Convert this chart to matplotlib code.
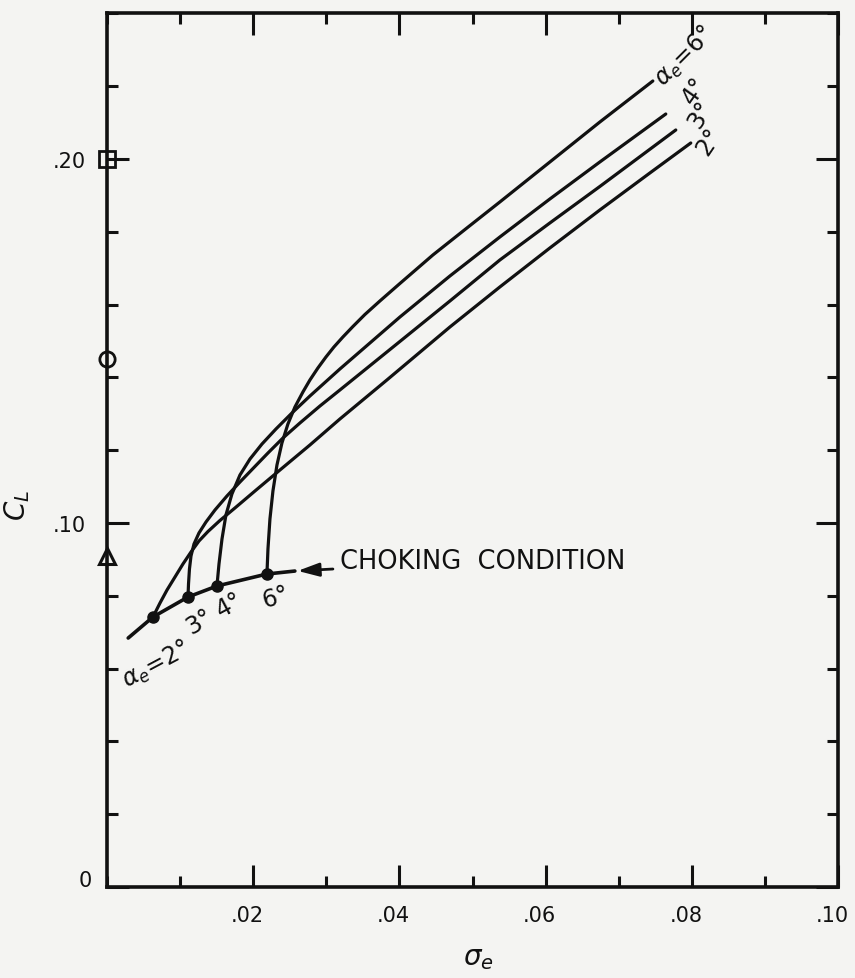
import numpy as np
import matplotlib.pyplot as plt
from matplotlib.ticker import MultipleLocator, FixedLocator
from matplotlib.transforms import ScaledTranslation

plt.rcParams['font.family'] = ['DejaVu Sans']
plt.rcParams['mathtext.fontset'] = 'dejavusans'

ink = '#111111'
paper = '#f4f4f2'

# lift coefficient vs cavitation number, each curve starts at the choking point
sig_2 = [0.00629, 0.00725, 0.00821, 0.00930, 0.01039, 0.01149, 0.01258, 0.01381,
         0.01545, 0.01750, 0.02024, 0.02366, 0.02776, 0.03186, 0.03829, 0.04691,
         0.05374, 0.06058, 0.06742, 0.07426, 0.07986]
cl_2 = [0.07418, 0.07802, 0.08159, 0.08516, 0.08874, 0.09203, 0.09505, 0.09766,
        0.10069, 0.10412, 0.10879, 0.11456, 0.12143, 0.12857, 0.13929, 0.15385,
        0.16484, 0.17555, 0.18599, 0.19615, 0.20440]

sig_3 = [0.01108, 0.01115, 0.01128, 0.01149, 0.01190, 0.01258, 0.01354, 0.01477,
         0.01641, 0.01819, 0.01997, 0.02202, 0.02407, 0.02639, 0.02913, 0.03186,
         0.03829, 0.04691, 0.05374, 0.06058, 0.06742, 0.07781]
cl_3 = [0.07967, 0.08324, 0.08736, 0.09093, 0.09423, 0.09725, 0.10027, 0.10357,
        0.10742, 0.11126, 0.11497, 0.11923, 0.12335, 0.12747, 0.13214, 0.13654,
        0.14698, 0.16099, 0.17225, 0.18242, 0.19245, 0.20797]

sig_4 = [0.01504, 0.01532, 0.01573, 0.01627, 0.01709, 0.01819, 0.01956, 0.02120,
         0.02311, 0.02530, 0.02776, 0.03186, 0.04007, 0.04691, 0.05374, 0.06058,
         0.06742, 0.07644]
cl_4 = [0.08269, 0.08874, 0.09560, 0.10220, 0.10797, 0.11319, 0.11758, 0.12170,
        0.12582, 0.13022, 0.13489, 0.14231, 0.15659, 0.16786, 0.17857, 0.18901,
        0.19918, 0.21236]

sig_6 = [0.02188, 0.02202, 0.02229, 0.02270, 0.02325, 0.02393, 0.02475, 0.02571,
         0.02680, 0.02776, 0.02885, 0.02995, 0.03104, 0.03227, 0.03364, 0.03528,
         0.03733, 0.04007, 0.04458, 0.04923, 0.05374, 0.06195, 0.06742, 0.07467]
cl_6 = [0.08599, 0.09286, 0.10110, 0.10879, 0.11593, 0.12198, 0.12720, 0.13187,
        0.13599, 0.13929, 0.14258, 0.14560, 0.14835, 0.15110, 0.15398, 0.15728,
        0.16099, 0.16580, 0.17363, 0.18104, 0.18819, 0.20137, 0.21016, 0.22143]

# choking condition line
choke_sig = [0.0029, 0.00629, 0.01108, 0.01504, 0.02188, 0.0257]
choke_cl = [0.0684, 0.07418, 0.07967, 0.08269, 0.08599, 0.0868]

# symbols on the CL axis
ref_square = 0.200
ref_circle = 0.145
ref_triangle = 0.091

fig = plt.figure(figsize=(8.55, 9.79), dpi=100, facecolor=paper)
ax = fig.add_axes([107 / 855, 91 / 979, 731 / 855, 873.6 / 979], facecolor=paper)

for s, c in [(sig_2, cl_2), (sig_3, cl_3), (sig_4, cl_4), (sig_6, cl_6)]:
    ax.plot(s, c, color=ink, lw=2.3, solid_capstyle='round', solid_joinstyle='round')
    ax.plot(s[0], c[0], 'o', color=ink, ms=8)

ax.plot(choke_sig, choke_cl, color=ink, lw=2.6, solid_capstyle='round')

ax.plot(0, ref_square, 's', ms=11, mfc='none', mec=ink, mew=2, clip_on=False, zorder=5)
ax.plot(0, ref_circle, 'o', ms=11, mfc='none', mec=ink, mew=2, clip_on=False, zorder=5)
ax.plot(0, ref_triangle, '^', ms=12, mfc='none', mec=ink, mew=2.2, clip_on=False, zorder=5)

lab = dict(textcoords='offset pixels', rotation_mode='anchor', ha='center', va='center',
           fontsize=17, color=ink)

# curve labels at the upper ends
ax.annotate(r'$\alpha_e$=6°', xy=(sig_6[-1], cl_6[-1]), xytext=(31, 25), rotation=45, **lab)
ax.annotate('4°', xy=(sig_4[-1], cl_4[-1]), xytext=(29, 24), rotation=55, **lab)
ax.annotate('3°', xy=(sig_3[-1], cl_3[-1]), xytext=(25, 16), rotation=58, **lab)
ax.annotate('2°', xy=(sig_2[-1], cl_2[-1]), xytext=(18, 2), rotation=56, **lab)

# labels along the choking line
ax.annotate(r'$\alpha_e$=2°', xy=(sig_2[0], cl_2[0]), xytext=(3, -47), rotation=28, **lab)
ax.annotate('3°', xy=(sig_3[0], cl_3[0]), xytext=(11, -24), rotation=30, **lab)
ax.annotate('4°', xy=(sig_4[0], cl_4[0]), xytext=(13, -19), rotation=28, **lab)
ax.annotate('6°', xy=(sig_6[0], cl_6[0]), xytext=(9, -23), rotation=15, **lab)

ax.annotate('CHOKING  CONDITION', xy=(choke_sig[-1], choke_cl[-1]), xytext=(45, 10),
            textcoords='offset pixels', ha='left', va='center', fontsize=18.5, color=ink,
            arrowprops=dict(arrowstyle='-|>,head_length=0.7,head_width=0.22', lw=2,
                            color=ink, shrinkA=3, shrinkB=2))

ax.set_xlim(0, 0.10)
ax.set_ylim(0, 0.24)

ax.xaxis.set_major_locator(FixedLocator([0.02, 0.04, 0.06, 0.08, 0.10]))
ax.set_xticklabels(['.02', '.04', '.06', '.08', '.10'])
ax.xaxis.set_minor_locator(MultipleLocator(0.01))
ax.yaxis.set_major_locator(FixedLocator([0.0, 0.10, 0.20]))
ax.set_yticklabels(['0', '.10', '.20'])
ax.yaxis.set_minor_locator(MultipleLocator(0.02))

ax.tick_params(which='both', direction='in', top=True, right=True, width=2.2,
               color=ink, labelcolor=ink, labelsize=15)
ax.tick_params(which='major', length=16)
ax.tick_params(which='minor', length=8)
ax.tick_params(axis='x', which='major', pad=13)
ax.tick_params(axis='y', which='major', pad=15)

for sp in ax.spines.values():
    sp.set_linewidth(2.6)
    sp.set_color(ink)

ax.set_xlabel(r'$\sigma_e$', fontsize=20, color=ink)
ax.xaxis.set_label_coords(0.508, -0.064)
ax.set_ylabel(r'$C_L$', fontsize=20, color=ink)
ax.yaxis.set_label_coords(-0.103, 0.438)

# hand-lettered tick labels sit a little off their ticks
fig.canvas.draw()
nudge = ScaledTranslation(-6 / 100, 0, fig.dpi_scale_trans)
for t in ax.get_xticklabels():
    t.set_transform(t.get_transform() + nudge)
zero = ax.get_yticklabels()[0]
zero.set_transform(zero.get_transform() + ScaledTranslation(0.06, 0.09, fig.dpi_scale_trans))

fig.savefig('out.png', dpi=100, facecolor=paper)
